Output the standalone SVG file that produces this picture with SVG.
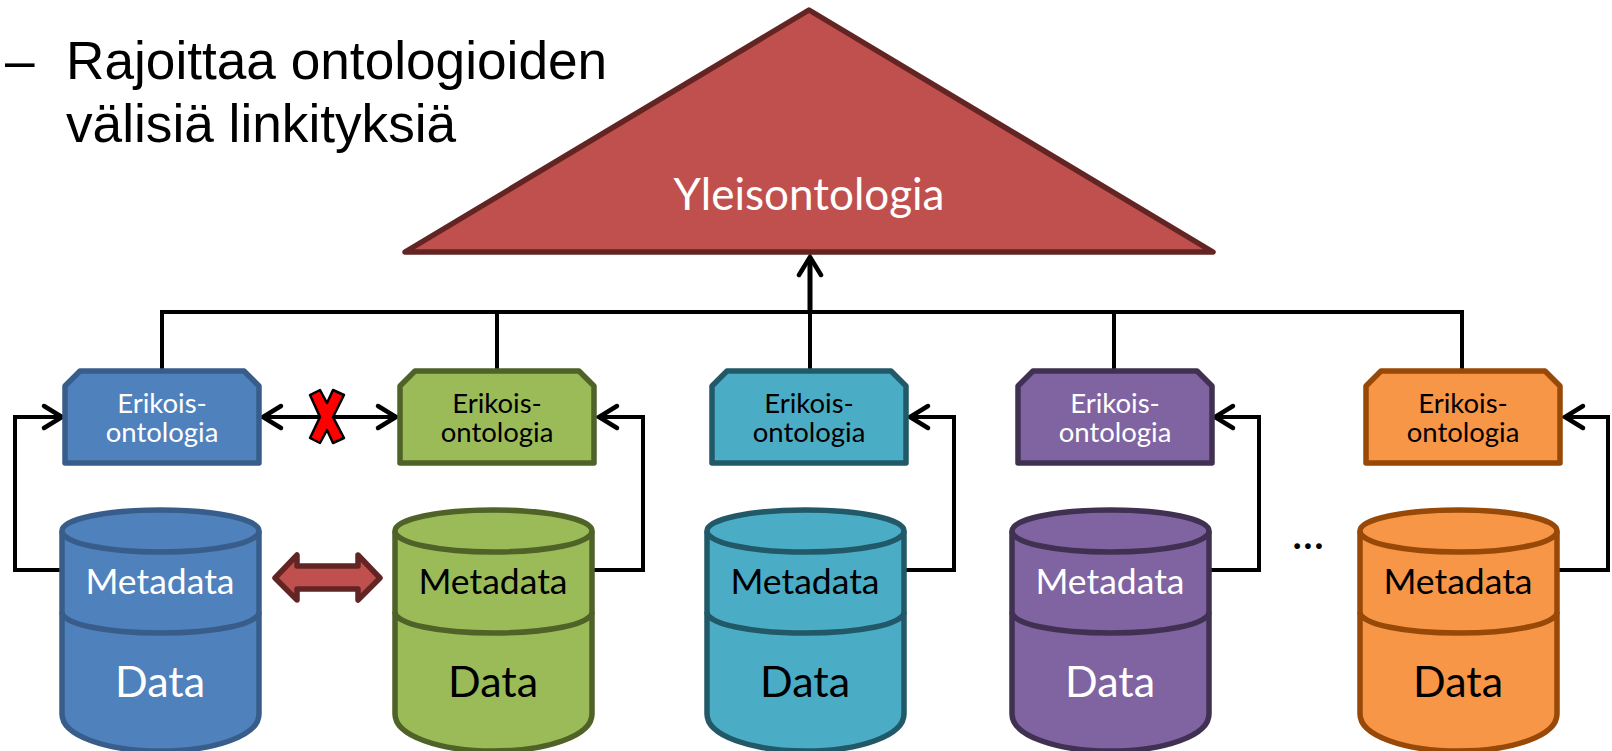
<svg xmlns="http://www.w3.org/2000/svg" width="1612" height="751" viewBox="0 0 1612 751">
<style>
.w{fill:#fff}.k{fill:#000}
text{font-family:"Lato","Open Sans",sans-serif;text-anchor:middle}
.e{font-size:27.5px}.m{font-size:35.5px}.d{font-size:43px}
.h{font-family:"Liberation Sans",Arial,sans-serif;font-size:53.2px;text-anchor:start;fill:#000}
.c{fill:none;stroke:#000;stroke-width:4;stroke-linejoin:miter}
.s{stroke-width:5.5;stroke-linejoin:round}
.blue{fill:#4F81BD;stroke:#385D8A}.green{fill:#9BBB59;stroke:#4F6228}.teal{fill:#4BACC6;stroke:#215968}.purple{fill:#8064A2;stroke:#403152}.orange{fill:#F79646;stroke:#984807}
</style>
<defs>
<marker id="a" markerUnits="userSpaceOnUse" markerWidth="26" markerHeight="30" refX="20" refY="13" orient="auto-start-reverse" overflow="visible"><path d="M2 2L20 13L2 24" fill="none" stroke="#000" stroke-width="4.5" stroke-linecap="round"/></marker>
<path id="box" d="M15 0H179L194 15V92H0V15Z"/>
<g id="cyl"><path d="M0 21C0 9 44 0 98.500 0S197 9 197 21V204C197 226 152 241 98.500 241S0 226 0 204Z"/><path d="M0 21C0 33 44 42 98.500 42S197 33 197 21M0 102C0 114 44 123 98.500 123S197 114 197 102" fill="none"/></g>
</defs>
<g id="bullet"><text class="h" x="5" y="79">–</text><text class="h" x="66" y="79">Rajoittaa ontologioiden</text><text class="h" x="66" y="142">välisiä linkityksiä</text></g>
<g id="connectors">
<path class="c" d="M162 369V312H1462V369M497 312V369M810 312V369M1114 312V369"/>
<path class="c" style="stroke-width:5" d="M810 312V257" marker-end="url(#a)"/>
<path class="c" d="M60 570H15V417H62" marker-end="url(#a)"/>
<path class="c" d="M593 570H643V417H599" marker-end="url(#a)"/>
<path class="c" d="M906 570H954V417H910" marker-end="url(#a)"/>
<path class="c" d="M1210 570H1259V417H1215" marker-end="url(#a)"/>
<path class="c" d="M1559 570H1608V417H1565" marker-end="url(#a)"/>
<path class="c" d="M263 417H396" marker-start="url(#a)" marker-end="url(#a)"/>
</g>
<g id="top"><path d="M809 10L1213 252H405Z" fill="#C0504D" stroke="#632523" stroke-width="5.5" stroke-linejoin="round"/><text class="w" x="809" y="210" style="font-size:44px">Yleisontologia</text></g>
<g id="o1"><use href="#box" x="65" y="371" class="s blue"/><text class="e w" x="162" y="413">Erikois-</text><text class="e w" x="162" y="442">ontologia</text></g>
<g id="o2"><use href="#box" x="400" y="371" class="s green"/><text class="e k" x="497" y="413">Erikois-</text><text class="e k" x="497" y="442">ontologia</text></g>
<g id="o3"><use href="#box" x="712" y="371" class="s teal"/><text class="e k" x="809" y="413">Erikois-</text><text class="e k" x="809" y="442">ontologia</text></g>
<g id="o4"><use href="#box" x="1018" y="371" class="s purple"/><text class="e w" x="1115" y="413">Erikois-</text><text class="e w" x="1115" y="442">ontologia</text></g>
<g id="o5"><use href="#box" x="1366" y="371" class="s orange"/><text class="e k" x="1463" y="413">Erikois-</text><text class="e k" x="1463" y="442">ontologia</text></g>
<g id="c1"><use href="#cyl" x="62" y="510" class="s blue"/><text class="m w" x="160" y="594">Metadata</text><text class="d w" x="160" y="697">Data</text></g>
<g id="c2"><use href="#cyl" x="395" y="510" class="s green"/><text class="m k" x="493" y="594">Metadata</text><text class="d k" x="493" y="697">Data</text></g>
<g id="c3"><use href="#cyl" x="707" y="510" class="s teal"/><text class="m k" x="805" y="594">Metadata</text><text class="d k" x="805" y="697">Data</text></g>
<g id="c4"><use href="#cyl" x="1012" y="510" class="s purple"/><text class="m w" x="1110" y="594">Metadata</text><text class="d w" x="1110" y="697">Data</text></g>
<g id="c5"><use href="#cyl" x="1360" y="510" class="s orange"/><text class="m k" x="1458" y="594">Metadata</text><text class="d k" x="1458" y="697">Data</text></g>
<g id="cross"><path d="M310 395L320 390L327 403L333 390L344 395L333 417L344 438L333 443L327 430L320 443L310 438L320 417Z" fill="#f00" stroke="#000" stroke-width="2.5" stroke-linejoin="round"/></g>
<g id="swap"><path d="M275 578L297 555V566H358V555L380 578L358 600V589H297V600Z" fill="#C0504D" stroke="#632523" stroke-width="5.5" stroke-linejoin="round"/></g>
<text id="dots" class="k" x="1308" y="549" style="font-size:46px">...</text>
</svg>
